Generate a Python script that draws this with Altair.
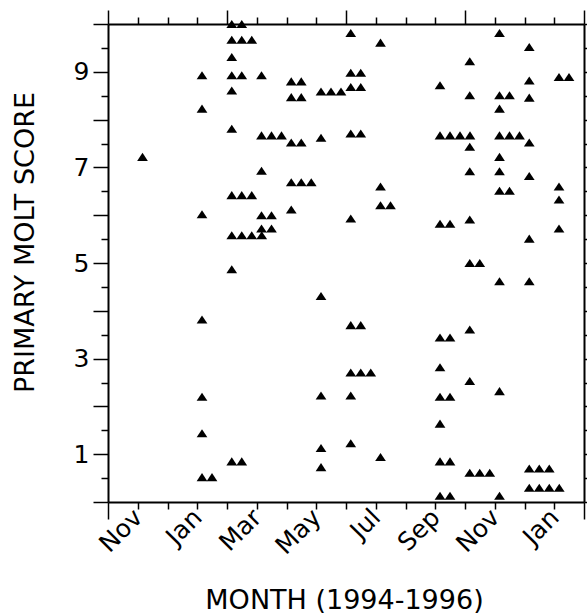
import json
import altair as alt
import pandas as pd

# Month axis: index 0 = Oct 1994 ... index 16 = Feb 1996
tick_labels = ["Nov", "Jan", "Mar", "May", "Jul", "Sep", "Nov", "Jan"]  # at indices 1,3,...,15

# Sampling months (index since Oct 1994) and primary molt scores of the birds caught
sample_months = [1, 3, 4, 5, 6, 7, 8, 9, 11, 12, 13, 14, 15]
scores_nov94 = [7.22]
scores_jan95 = [8.93, 8.23, 6.02, 3.82, 2.20, 1.44, 0.52, 0.52]
scores_feb95 = [10.0, 10.0, 9.67, 9.67, 9.67, 9.31, 8.93, 8.93, 8.61, 7.81,
                6.42, 6.42, 6.42, 5.58, 5.58, 5.58, 5.58, 4.87, 0.85, 0.85]
scores_mar95 = [8.93, 7.67, 7.67, 7.67, 6.93, 6.00, 6.00, 5.72, 5.72]
scores_apr95 = [8.80, 8.80, 8.47, 8.47, 7.52, 7.52, 6.69, 6.69, 6.69, 6.12]
scores_may95 = [8.59, 8.59, 8.59, 7.62, 4.31, 2.23, 1.13, 0.73]
scores_jun95 = [9.81, 8.98, 8.98, 8.68, 8.68, 7.71, 7.71, 5.93, 3.70, 3.70,
                2.71, 2.71, 2.71, 2.23, 1.23]
scores_jul95 = [9.61, 6.60, 6.21, 6.21, 0.94]
scores_sep95 = [8.72, 7.67, 7.67, 7.67, 7.67, 5.82, 5.82, 3.44, 3.44, 2.82,
                2.20, 2.20, 1.64, 0.85, 0.85, 0.13, 0.13]
scores_oct95 = [9.22, 8.51, 7.43, 6.92, 5.91, 5.00, 5.00, 3.61, 2.53, 0.61, 0.61, 0.61]
scores_nov95 = [9.81, 8.51, 8.51, 8.23, 7.67, 7.67, 7.67, 7.22, 6.92, 6.51, 6.51,
                4.62, 2.32, 0.13]
scores_dec95 = [9.52, 8.82, 8.46, 7.52, 6.82, 5.51, 4.62, 0.70, 0.70, 0.70,
                0.30, 0.30, 0.30, 0.30]
scores_jan96 = [8.89, 8.89, 6.60, 6.33, 5.72]

score_lists = [scores_nov94, scores_jan95, scores_feb95, scores_mar95, scores_apr95,
               scores_may95, scores_jun95, scores_jul95, scores_sep95, scores_oct95,
               scores_nov95, scores_dec95, scores_jan96]

rows = []
for m, lst in zip(sample_months, score_lists):
    seen = {}
    for s in lst:
        k = seen.get(s, 0)
        seen[s] = k + 1
        rows.append({"month": m, "rank": k, "score": s})
df = pd.DataFrame(rows)

tri = "M0,-0.75L-1,0.75L1,0.75Z"
xscale = alt.Scale(domain=[0, 16], nice=False, zero=False)
yscale = alt.Scale(domain=[0, 10], nice=False, zero=False)
month_ticks = list(range(17))
half_ticks = [i * 0.5 for i in range(21)]

x_lab_expr = ("datum.value % 2 == 1 ? " + json.dumps(tick_labels)
              + "[(datum.value - 1) / 2] : ''")
y_lab_expr = "datum.value % 2 == 1 ? '' + datum.value : ''"

base = alt.Chart(df).transform_calculate(
    xpos="datum.month + 0.16 + datum.rank * 0.336"
)

points = base.mark_point(shape=tri, filled=True, color="black", size=115, opacity=1).encode(
    x=alt.X("xpos:Q", scale=xscale, axis=alt.Axis(
        orient="bottom", values=month_ticks, labelExpr=x_lab_expr,
        labelAngle=-45, labelAlign="right", labelBaseline="middle",
        labelFontSize=25, labelPadding=4, labelOverlap=False, labelFlush=False,
        tickSize={"condition": {"test": "datum.value == 0 || datum.value == 16", "value": 17}, "value": 7},
        title="MONTH (1994-1996)", titleFontSize=27, titleX=236, titleY=106,
        titleAlign="center", titleBaseline="alphabetic")),
    y=alt.Y("score:Q", scale=yscale, axis=alt.Axis(
        orient="left", values=half_ticks, labelExpr=y_lab_expr,
        labelFontSize=25, labelPadding=4, labelOverlap=False, labelFlush=False,
        tickSize={"condition": {"test": "datum.value % 1 == 0", "value": 15}, "value": 7},
        title="PRIMARY MOLT SCORE", titleFontSize=27, titleAngle=-90,
        titleX=-83, titleY=218, titleAlign="center", titleBaseline="middle")),
)

frame = base.mark_point(opacity=0).encode(
    x=alt.X("xpos:Q", scale=xscale, axis=alt.Axis(
        orient="top", values=month_ticks, labels=False, title="",
        tickSize={"condition": {"test": "datum.value % 4 == 0", "value": 14}, "value": 7})),
    y=alt.Y("score:Q", scale=yscale, axis=alt.Axis(
        orient="right", values=half_ticks, labels=False, title="", tickSize=7)),
)

chart = alt.layer(points, frame).resolve_axis(
    x="independent", y="independent"
).properties(
    width=476, height=478,
    autosize=alt.AutoSizeParams(type="none"),
    padding={"left": 108, "top": 24, "right": 3, "bottom": 114},
).configure_view(
    strokeWidth=0
).configure_axis(
    grid=False, domainColor="black", domainWidth=2, tickColor="black", tickWidth=1.5,
    labelColor="black", titleColor="black", labelFont="DejaVu Sans",
    titleFont="DejaVu Sans", titleFontWeight="normal",
)

chart.save("out.html", embed_options={"renderer": "svg", "actions": False})
